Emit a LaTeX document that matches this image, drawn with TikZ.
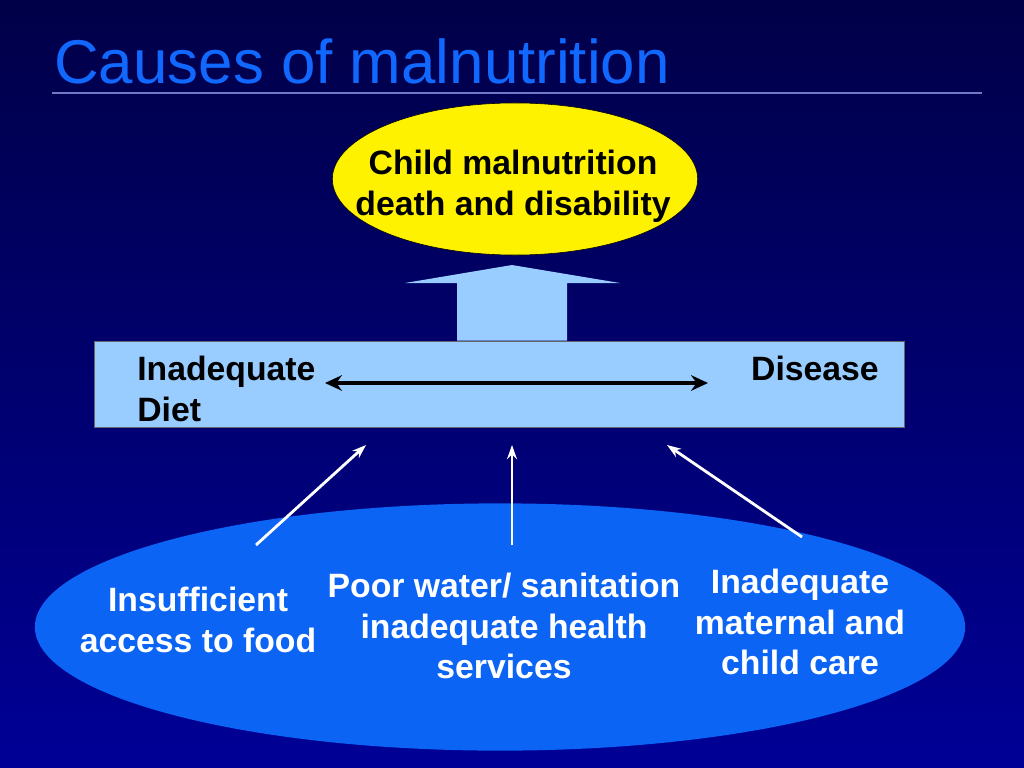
\documentclass[tikz,border=0pt]{standalone}
\usepackage{fontspec}
\setmainfont{Liberation Sans}
\usepackage{tikz}
\usetikzlibrary{shapes.geometric,arrows.meta,positioning}

\definecolor{navytop}{RGB}{0,0,72}
\definecolor{navybot}{RGB}{0,0,150}
\definecolor{titleblue}{RGB}{16,104,255}
\definecolor{causeblue}{RGB}{12,100,245}
\definecolor{paleblue}{RGB}{153,204,255}
\definecolor{rulecol}{RGB}{112,120,200}

\tikzset{
  boldtext/.style={font=\fontsize{24}{29}\selectfont\bfseries, align=center, inner sep=0pt},
  cause/.style={boldtext, text=white},
  link/.style={draw=white, line width=2pt, -{Stealth[length=10pt, width=7pt]}}
}

\begin{document}
\begin{tikzpicture}[x=0.025cm, y=-0.025cm]
\useasboundingbox (0,0) rectangle (1024,768);
\shade[top color=navytop, bottom color=navybot] (0,0) rectangle (1024,768);

% title
\node[anchor=base west, inner sep=0pt, text=titleblue, font=\fontsize{44}{50}\selectfont]
  (title) at (54,84) {Causes of malnutrition};
\draw[rulecol, line width=0.8pt] (52,93) -- (982,93);

% outcome
\node[ellipse, draw=black, fill=yellow, minimum width=9.13cm, minimum height=3.8cm,
  inner sep=0pt] (outcome) at (515,179) {};
\node[boldtext, text=black] (outcometext) at (513,186) {Child malnutrition\\death and disability};

% immediate causes
\node[draw=black!60, fill=paleblue, minimum width=20.25cm, minimum height=2.15cm,
  inner sep=0pt] (immediate) at (499,384) {};
\node[boldtext, align=left, anchor=north west] (diet) at (137,356) {Inadequate\\Diet};
\node[boldtext, anchor=north east] (disease) at (879,356) {Disease};
\coordinate (dietend) at (325,383);
\coordinate (diseaseend) at (708,383);
\draw[black, line width=2.4pt, {Stealth[length=12pt, width=11pt]}-{Stealth[length=12pt, width=11pt]}]
  (dietend) -- (diseaseend);

% block arrow up
\fill[paleblue] (immediate.north -| 457,0) -- (457,283) -- (405,283) -- (512,265)
  -- (620,283) -- (567,283) -- (immediate.north -| 567,0) -- cycle;

% underlying causes
\node[ellipse, fill=causeblue, minimum width=23.25cm, minimum height=6.18cm]
  (underlying) at (500,627) {};
\node[cause] (food) at (198,620) {Insufficient\\access to food};
\node[cause] (water) at (504,626) {Poor water/ sanitation\\inadequate health\\services};
\node[cause] (care) at (800,622) {Inadequate\\maternal and\\child care};

\coordinate (foodtail) at (256,545);
\coordinate (watertail) at (512,545);
\coordinate (caretail) at (802,537);
\coordinate (foodhead) at (366,445);
\coordinate (waterhead) at (512,445);
\coordinate (carehead) at (667,445);
\draw[link] (foodtail) -- (foodhead);
\draw[link] (watertail) -- (waterhead);
\draw[link] (caretail) -- (carehead);
\end{tikzpicture}
\end{document}
